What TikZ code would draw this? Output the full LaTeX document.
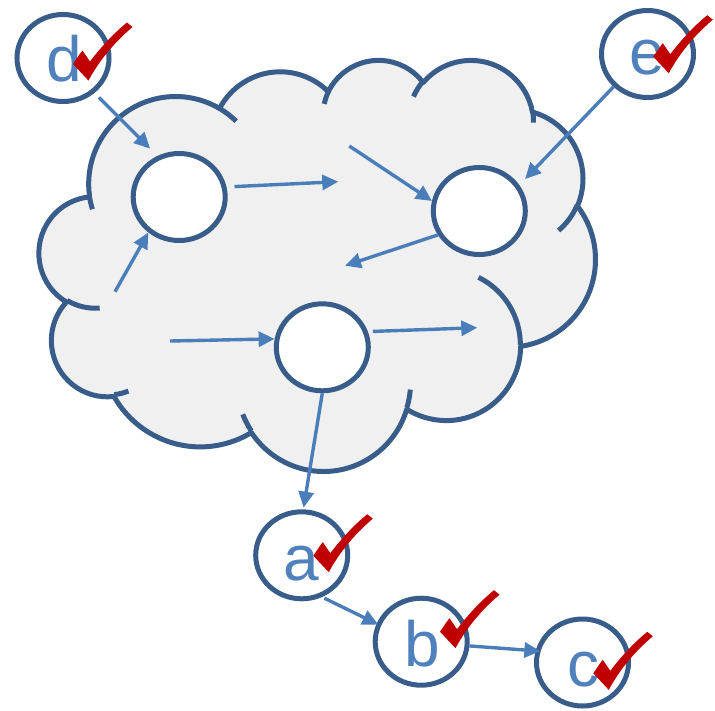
\documentclass[tikz,border=0pt]{standalone}
\usepackage{fontspec}
\setmainfont{Liberation Sans}
\usetikzlibrary{arrows.meta,shapes.geometric}

\definecolor{outline}{HTML}{385D8A}
\definecolor{linkblue}{HTML}{4A7EBB}
\definecolor{letterblue}{HTML}{4F81BD}
\definecolor{cloudfill}{HTML}{F0F0F0}
\definecolor{tickred}{HTML}{C00000}

% Cloud outline: preset cloud geometry (path units / 10) scaled into the page.
\def\csx{0.1287}
\def\csy{0.095139}
\newcommand\cpt[2]{({39.3+(#1)*\csx},{59+(#2)*\csy})}
% elliptical arc: radii wR hR, start and sweep given as visual angles (degrees)
\newcommand\carc[4]{arc[start angle={-atan2((#1)*sin(#3),(#2)*cos(#3))},
  delta angle={-mod(atan2((#1)*sin((#3)+(#4)),(#2)*cos((#3)+(#4)))-atan2((#1)*sin(#3),(#2)*cos(#3))+720,360)},
  x radius={(#1)*\csx*1pt}, y radius={(#2)*\csy*1pt}]}

\begin{document}
\begin{tikzpicture}[x=1pt,y=-1pt,
  bubble/.style={ellipse, draw=outline, line width=5pt, fill=white,
    minimum width=92pt, minimum height=87pt, inner sep=0pt},
  link/.style={draw=linkblue, line width=3.4pt, -{Triangle[length=16pt,width=15pt]}},
  letter/.style={text=letterblue, font=\fontsize{64}{64}\selectfont, anchor=base, inner sep=0pt},
  cloudline/.style={draw=outline, line width=5pt},
  checkmark/.pic={
    \fill[tickred] (0,0) -- (-14,-15) .. controls (-10.5,-20) and (-7.5,-25) .. (-4.5,-28.5)
      -- (3,-17.5) .. controls (14,-32) and (27,-46) .. (40,-56.5)
      -- (45.5,-52) .. controls (29,-38) and (13,-20) .. (1.5,1.5) -- cycle;
  }]
\useasboundingbox (0,0) rectangle (715,710);

% cloud body
\path[fill=cloudfill, cloudline, line join=round]
  \cpt{390}{1437}
  \carc{675.3}{919.0}{-190.4875}{123.7805}
  \carc{533.3}{726.7}{-144.1024}{89.9452}
  \carc{436.5}{594.5}{-145.8079}{99.7230}
  \carc{485.7}{659.5}{-130.9861}{117.2417}
  \carc{533.3}{727.3}{-78.7089}{109.0269}
  \carc{677.5}{922.0}{-46.2673}{130.2690}
  \carc{578.5}{786.7}{0.6250}{114.0333}
  \carc{675.2}{921.5}{22.4516}{115.1726}
  \carc{772.0}{1054.3}{66.2426}{75.7110}
  \carc{436.0}{591.8}{-274.9421}{146.7356}
  \carc{434.5}{594.5}{-246.8285}{152.5301}
  -- cycle;

% inner overlap strokes of the cloud
\draw[cloudline]
  \cpt{469.3}{2617.7} \carc{434.5}{594.5}{86.7420}{26.4295}
  \cpt{692.8}{3489.9} \carc{436.0}{591.8}{73.6105}{11.4475}
  \cpt{1647.8}{3909.0} \carc{675.2}{921.5}{137.6242}{14.0811}
  \cpt{2882.7}{3475.1} \carc{675.2}{921.5}{6.4533}{15.9984}
  \cpt{3412.9}{2295.4} \carc{578.5}{786.7}{-70.2924}{70.9174}
  \cpt{4179.8}{1535.4} \carc{533.3}{727.3}{30.3180}{27.7515}
  \cpt{3832.4}{542.6} \carc{485.7}{659.5}{-13.7443}{14.8589}
  \cpt{2907.8}{395.2} \carc{485.7}{659.5}{-149.1815}{18.1954}
  \cpt{2214.1}{472.0} \carc{436.5}{594.5}{-163.4943}{17.6864}
  \cpt{1400.0}{519.2} \carc{675.3}{919.0}{-66.7070}{12.3194}
  \cpt{412.7}{1578.9} \carc{675.3}{919.0}{156.6948}{11.8573};

% states inside the cloud
\node[bubble] (n1) at (179.2,197) {};
\node[bubble] (n2) at (479.3,211) {};
\node[bubble] (n3) at (322.3,347.3) {};

% labelled states
\node[bubble] (d) at (63,58) {};
\node[bubble] (e) at (647.5,54) {};
\node[bubble] (a) at (301.7,555.3) {};
\node[bubble] (b) at (421.2,641.7) {};
\node[bubble] (c) at (582.5,662.5) {};

\node[letter] (dl) at (64,81.5) {d};
\node[letter] (el) at (647,74.5) {e};
\node[letter] (al) at (301.5,580.5) {a};
\node[letter] (bl) at (422,666.5) {b};
\node[letter] (cl) at (583,686.5) {c};

% loose arrow ends inside the cloud
\coordinate (p1) at (338.3,181.7);
\coordinate (p2) at (349.3,146);
\coordinate (p3) at (345,265.7);
\coordinate (p4) at (115,291.7);
\coordinate (p5) at (170,341);
\coordinate (p6) at (477.3,327.7);

% transitions
\draw[link, shorten <=6.3pt, shorten >=10.3pt] (d.-48.4) -- (n1.118.5);
\draw[link, shorten >=8.2pt] (e.-136.4) -- (n2.33.2);
\draw[link, shorten <=8pt] (n1.12.9) -- (p1);
\draw[link] (p2) -- (n2.168.4);
\draw[link] (n2.-150.4) -- (p3);
\draw[link] (p4) -- (n1.-131.3);
\draw[link] (p5) -- (n3.170);
\draw[link, shorten <=5pt] (n3.19.9) -- (p6);
\draw[link, shorten >=1.7pt] (n3.-90.8) -- (a.88);
\draw[link, shorten <=2.6pt, shorten >=-2pt] (a.-64.5) -- (b.158.8);
\draw[link, shorten >=-4.8pt] (b.-5.1) -- (c.166.2);

% check marks
\pic at (87,79) {checkmark};
\pic at (667.3,71.7) {checkmark};
\pic at (327.3,570.7) {checkmark};
\pic at (454,646.7) {checkmark};
\pic at (607.3,688.3) {checkmark};
\end{tikzpicture}
\end{document}
